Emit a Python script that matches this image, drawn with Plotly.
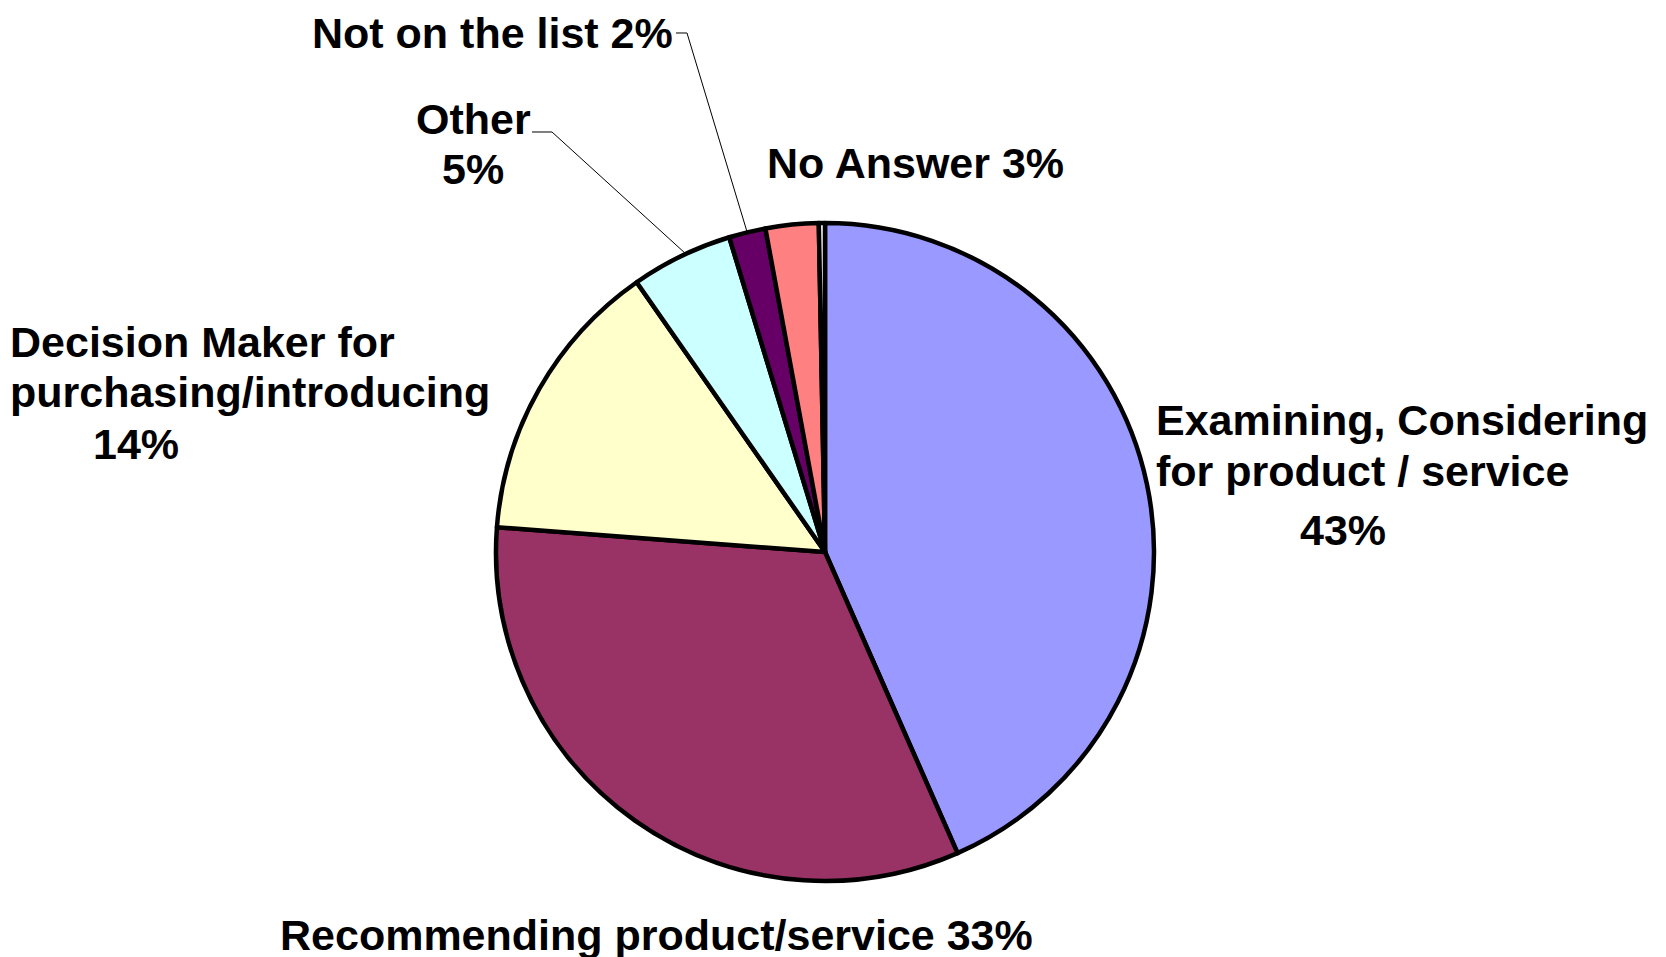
import math
import plotly.graph_objects as go

# ---- data ----
categories = [
    "Examining, Considering for product / service",
    "Recommending product/service",
    "Decision Maker for purchasing/introducing",
    "Other",
    "Not on the list",
    "No Answer",
    "",
]
values = [43.4, 32.8, 14.1, 5.0, 1.8, 2.6, 0.3]
colors = ["#9999FF", "#993366", "#FFFFCC", "#CCFFFF", "#660066", "#FF8080", "#FFFFFF"]

W, H = 1666, 957
CX, CY, R = 817, 544, 329  # pie centre / radius in px

total = sum(values)
pct = [round(v / total * 100) for v in values]

fig = go.Figure()
fig.add_trace(go.Pie(
    labels=[c if c else " " for c in categories],
    values=values,
    sort=False,
    direction="clockwise",
    rotation=0,
    marker=dict(colors=colors, line=dict(color="black", width=4.5)),
    textinfo="none",
    hoverinfo="skip",
    showlegend=False,
    domain=dict(x=[(CX - R) / W, (CX + R) / W], y=[(H - CY - R) / H, (H - CY + R) / H]),
))

FONT = dict(family="Arial, Liberation Sans, sans-serif", size=43, color="black")


def px(x, y):
    return x / W, 1 - y / H


def ann(text, x, y, xanchor="center", align="center", yanchor="middle"):
    xp, yp = px(x, y)
    fig.add_annotation(text=text, x=xp, y=yp, xref="paper", yref="paper",
                       xanchor=xanchor, yanchor=yanchor, align=align,
                       showarrow=False, font=FONT, borderpad=0)


def slice_edge(i, frac=0.5):
    before = sum(values[:i])
    a = (before + values[i] * frac) / total * 2 * math.pi
    return CX + R * math.sin(a), CY - R * math.cos(a)


# labels
ann("<b>Examining, Considering</b>", 1147, 412, xanchor="left", align="left")
ann("<b>for product / service</b>", 1147, 463, xanchor="left", align="left")
ann(f"<b>{pct[0]}%</b>", 1335, 522)
ann(f"<b>Recommending product/service {pct[1]}%</b>", 648, 927)
ann("<b>Decision Maker for</b>", 1, 334, xanchor="left", align="left")
ann("<b>purchasing/introducing</b>", 1, 384, xanchor="left", align="left")
ann(f"<b>{pct[2]}%</b>", 128, 436)
ann("<b>Other</b>", 465, 111)
ann(f"<b>{pct[3]}%</b>", 465, 161)
ann(f"<b>Not on the list {pct[4]}%</b>", 484, 0, yanchor="top")
ann(f"<b>No Answer {pct[5]}%</b>", 907, 155)

# leader lines
def leader(points):
    path = "M " + " L ".join(f"{x/W:.5f},{1 - y/H:.5f}" for x, y in points)
    fig.add_shape(type="path", path=path, xref="paper", yref="paper",
                  line=dict(color="black", width=1))

ex, ey = slice_edge(3, 0.55)
leader([(524, 124), (544, 124), (ex, ey)])
ex, ey = slice_edge(4, 0.5)
leader([(668, 25), (679, 25), (ex, ey)])

fig.update_layout(
    width=W, height=H,
    margin=dict(l=0, r=0, t=0, b=0),
    paper_bgcolor="white", plot_bgcolor="white",
)

fig.write_html("out.html")
